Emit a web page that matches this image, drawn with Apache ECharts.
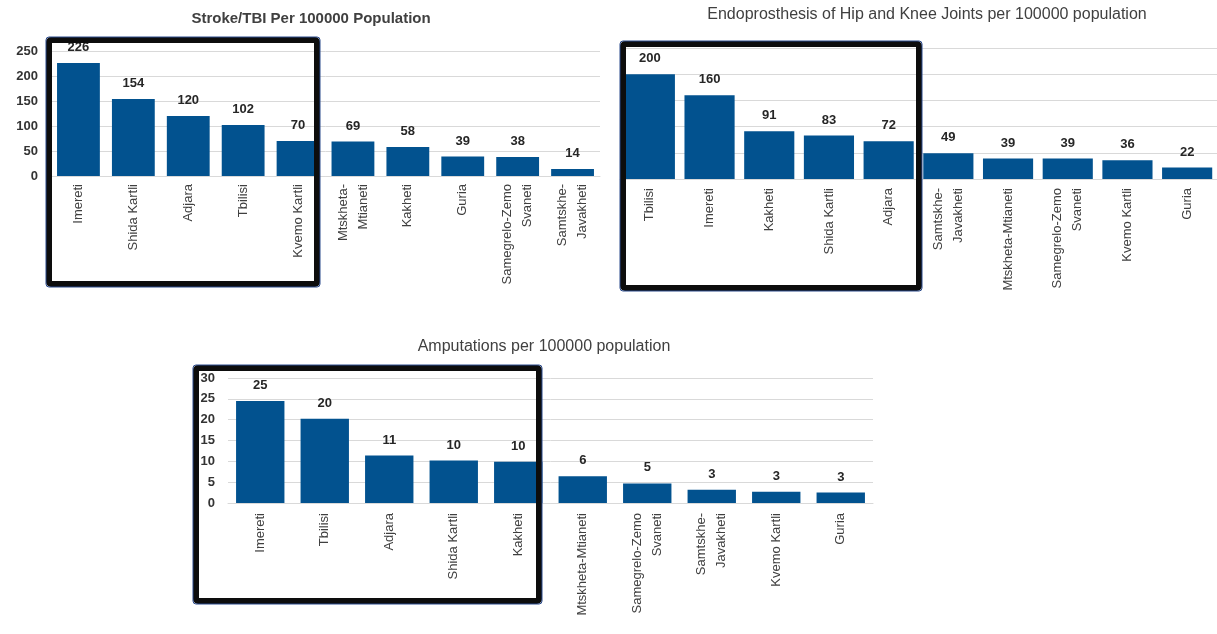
<!DOCTYPE html>
<html>
<head>
<meta charset="utf-8">
<script src="https://cdn.jsdelivr.net/npm/echarts@6/dist/echarts.min.js"></script>
<style>
  html, body { margin: 0; padding: 0; background: #ffffff; }
  #main { width: 1217px; height: 634px; }
</style>
</head>
<body>
<div id="main"></div>
<script>
// Stroke/TBI
var strokeRegions = ['Imereti', 'Shida Kartli', 'Adjara', 'Tbilisi', 'Kvemo Kartli', 'Mtskheta-\nMtianeti', 'Kakheti', 'Guria', 'Samegrelo-Zemo\nSvaneti', 'Samtskhe-\nJavakheti'];
var strokeValues = [226, 154, 120, 102, 70, 69, 58, 39, 38, 14];

// Endoprosthesis of hip and knee
var endoRegions = ['Tbilisi', 'Imereti', 'Kakheti', 'Shida Kartli', 'Adjara', 'Samtskhe-\nJavakheti', 'Mtskheta-Mtianeti', 'Samegrelo-Zemo\nSvaneti', 'Kvemo Kartli', 'Guria'];
var endoValues = [200, 160, 91, 83, 72, 49, 39, 39, 36, 22];

// Amputations
var ampRegions = ['Imereti', 'Tbilisi', 'Adjara', 'Shida Kartli', 'Kakheti', 'Mtskheta-Mtianeti', 'Samegrelo-Zemo\nSvaneti', 'Samtskhe-\nJavakheti', 'Kvemo Kartli', 'Guria'];
var ampValues = [24.5, 20.2, 11.4, 10.2, 9.9, 6.4, 4.7, 3.2, 2.7, 2.5];

var barColor = '#02528f';
var font = 'Liberation Sans';

function xAxisFor(idx, data, margin) {
    return {
        type: 'category',
        gridIndex: idx,
        data: data,
        axisTick: { show: false },
        axisLine: { lineStyle: { color: '#d9d9d9', width: 1 } },
        axisLabel: {
            rotate: 90,
            interval: 0,
            margin: margin,
            fontFamily: font,
            fontSize: 13,
            color: '#404040',
            lineHeight: 20
        }
    };
}

function yAxisFor(idx, max, interval, showLabels) {
    return {
        type: 'value',
        gridIndex: idx,
        min: 0,
        max: max,
        interval: interval,
        axisLine: { show: false },
        axisTick: { show: false },
        splitLine: { lineStyle: { color: '#d9d9d9', width: 1 } },
        axisLabel: {
            show: showLabels,
            margin: 13,
            fontFamily: font,
            fontWeight: 'bold',
            fontSize: 13,
            color: '#333333'
        }
    };
}

function barSeries(idx, values, gap) {
    return {
        type: 'bar',
        xAxisIndex: idx,
        yAxisIndex: idx,
        data: values,
        barCategoryGap: gap,
        itemStyle: { color: barColor },
        label: {
            show: true,
            position: 'top',
            distance: 9,
            fontFamily: font,
            fontWeight: 'bold',
            fontSize: 13,
            color: '#262626',
            formatter: function (p) { return Math.round(p.value); }
        }
    };
}

// highlight frames round the top five
function frame(x, y, w, h) {
    return [
        {
            type: 'rect', z: 100,
            shape: { x: x, y: y, width: w, height: h, r: 2 },
            style: { fill: 'none', stroke: '#0d0d0d', lineWidth: 6 }
        },
        {
            type: 'rect', z: 101,
            shape: { x: x - 3, y: y - 3, width: w + 6, height: h + 6, r: 3 },
            style: { fill: 'none', stroke: '#2a4a8c', lineWidth: 1 }
        }
    ];
}

var chart = echarts.init(document.getElementById('main'));

var option = {
    backgroundColor: '#ffffff',
    animation: false,
    title: [
        {
            text: 'Stroke/TBI Per 100000 Population',
            left: 306, top: 6, textAlign: 'center',
            textStyle: { fontFamily: font, fontSize: 15, fontWeight: 'bold', color: '#404040' }
        },
        {
            text: 'Endoprosthesis of Hip and Knee Joints per 100000 population',
            left: 922, top: 2, textAlign: 'center',
            textStyle: { fontFamily: font, fontSize: 16, fontWeight: 'normal', color: '#404040' }
        },
        {
            text: 'Amputations per 100000 population',
            left: 539, top: 334, textAlign: 'center',
            textStyle: { fontFamily: font, fontSize: 16, fontWeight: 'normal', color: '#404040' }
        }
    ],
    grid: [
        { left: 51, top: 51, width: 549, height: 125 },
        { left: 620, top: 48, width: 606, height: 131 },
        { left: 228, top: 378, width: 645, height: 125 }
    ],
    xAxis: [
        xAxisFor(0, strokeRegions, 8),
        xAxisFor(1, endoRegions, 9),
        xAxisFor(2, ampRegions, 10)
    ],
    yAxis: [
        yAxisFor(0, 250, 50, true),
        yAxisFor(1, 250, 50, false),
        yAxisFor(2, 30, 5, true)
    ],
    series: [
        barSeries(0, strokeValues, '22%'),
        barSeries(1, endoValues, '16%'),
        barSeries(2, ampValues, '25%')
    ],
    graphic: [].concat(
        frame(49, 40, 268, 244),
        frame(623, 44, 296, 244),
        frame(196, 368, 343, 233)
    )
};

chart.setOption(option);
</script>
</body>
</html>
